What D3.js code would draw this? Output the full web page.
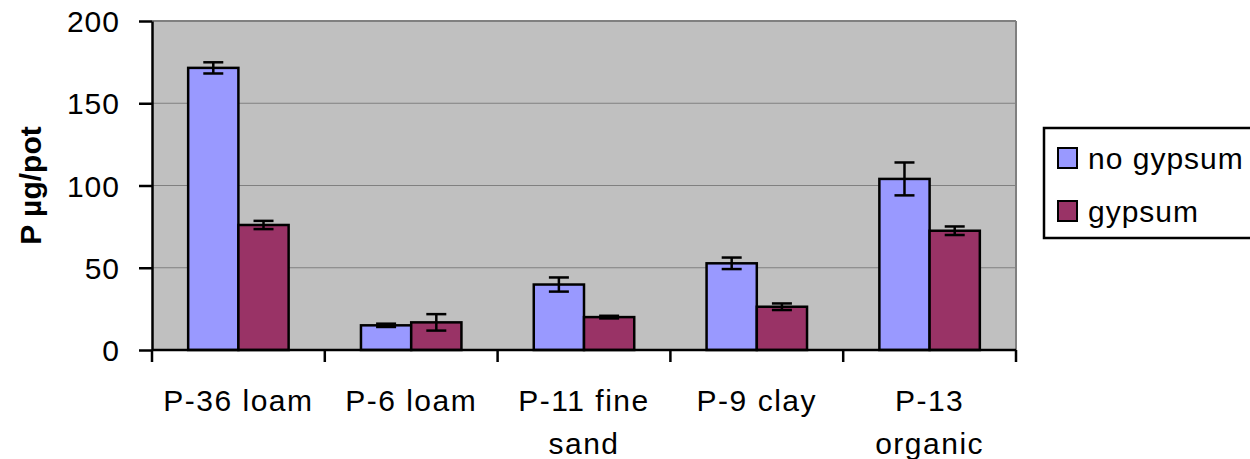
<!DOCTYPE html>
<html>
<head>
<meta charset="utf-8">
<script src="https://cdn.jsdelivr.net/npm/d3@7"></script>
<style>
  body { margin: 0; background: #fff; }
  svg text { font-family: "Liberation Sans", Arial, sans-serif; fill: #000; }
</style>
</head>
<body>
<div id="chart"></div>
<script>
// data
const categories = ["P-36 loam", "P-6 loam", "P-11 fine sand", "P-9 clay", "P-13 organic"];
const categoryLines = [["P-36 loam"], ["P-6 loam"], ["P-11 fine", "sand"], ["P-9 clay"], ["P-13", "organic"]];
const seriesNames = ["no gypsum", "gypsum"];
const noGypsum = [171.5, 15.0, 39.8, 52.7, 104.0];
const noGypsumErr = [3.4, 1.0, 4.3, 3.5, 10.0];
const gypsum = [76.0, 16.8, 20.0, 26.3, 72.5];
const gypsumErr = [2.5, 5.0, 0.8, 2.0, 2.6];
const yTicks = [0, 50, 100, 150, 200];
const colors = ["#9999FF", "#993366"];

const W = 1250, H = 459;
const margin = { top: 21, left: 152 };
const width = 864, height = 329;

const svg = d3.select("#chart").append("svg")
    .attr("width", W)
    .attr("height", H);

const g = svg.append("g")
    .attr("transform", `translate(${margin.left},${margin.top})`);

// scales
const x0 = d3.scaleBand().domain(categories).range([0, width]).paddingInner(0).paddingOuter(0);
const x1 = d3.scaleBand().domain(seriesNames).range([0, x0.bandwidth()]).paddingInner(0).paddingOuter(0.72);
const y = d3.scaleLinear().domain([0, 200]).range([height, 0]);

// plot background
g.append("rect")
    .attr("width", width)
    .attr("height", height)
    .attr("fill", "#C0C0C0");

// gridlines
g.selectAll(".grid")
    .data(yTicks.filter(d => d > 0))
    .enter().append("line")
    .attr("x1", 0).attr("x2", width)
    .attr("y1", d => y(d)).attr("y2", d => y(d))
    .attr("stroke", "#808080")
    .attr("stroke-width", d => d === 200 ? 2 : 1.2);

// right border
g.append("line")
    .attr("x1", width).attr("x2", width)
    .attr("y1", 0).attr("y2", height)
    .attr("stroke", "#808080").attr("stroke-width", 2);

// bars
const rows = categories.map((c, i) => ({
    cat: c,
    vals: [
        { s: seriesNames[0], v: noGypsum[i], e: noGypsumErr[i], k: 0 },
        { s: seriesNames[1], v: gypsum[i], e: gypsumErr[i], k: 1 }
    ]
}));

const groups = g.selectAll(".cat")
    .data(rows)
    .enter().append("g")
    .attr("transform", d => `translate(${x0(d.cat)},0)`);

groups.selectAll("rect")
    .data(d => d.vals)
    .enter().append("rect")
    .attr("x", d => x1(d.s))
    .attr("width", x1.bandwidth())
    .attr("y", d => y(d.v))
    .attr("height", d => height - y(d.v))
    .attr("fill", d => colors[d.k])
    .attr("stroke", "#000")
    .attr("stroke-width", 2.5);

// error bars
const capW = 10;
const eb = groups.selectAll(".err")
    .data(d => d.vals)
    .enter().append("g")
    .attr("stroke", "#000")
    .attr("stroke-width", 2.5);

eb.append("line")
    .attr("x1", d => x1(d.s) + x1.bandwidth() / 2)
    .attr("x2", d => x1(d.s) + x1.bandwidth() / 2)
    .attr("y1", d => y(d.v + d.e))
    .attr("y2", d => y(d.v - d.e));
eb.append("line")
    .attr("x1", d => x1(d.s) + x1.bandwidth() / 2 - capW)
    .attr("x2", d => x1(d.s) + x1.bandwidth() / 2 + capW)
    .attr("y1", d => y(d.v + d.e))
    .attr("y2", d => y(d.v + d.e));
eb.append("line")
    .attr("x1", d => x1(d.s) + x1.bandwidth() / 2 - capW)
    .attr("x2", d => x1(d.s) + x1.bandwidth() / 2 + capW)
    .attr("y1", d => y(d.v - d.e))
    .attr("y2", d => y(d.v - d.e));

// y axis
const yAxis = g.append("g")
    .call(d3.axisLeft(y).tickValues(yTicks).tickSize(13).tickPadding(19).tickSizeOuter(0));
yAxis.select(".domain").attr("stroke", "#000").attr("stroke-width", 2.5);
yAxis.selectAll(".tick line").attr("stroke", "#000").attr("stroke-width", 2.5);
yAxis.selectAll(".tick text")
    .attr("font-size", 30)
    .attr("letter-spacing", 1)
    .attr("dy", "0.35em");

// x axis line and category boundary ticks
g.append("line")
    .attr("x1", 0).attr("x2", width)
    .attr("y1", height).attr("y2", height)
    .attr("stroke", "#000").attr("stroke-width", 2.5);

const bounds = categories.map(c => x0(c)).concat([x0(categories[categories.length - 1]) + x0.bandwidth()]);
g.selectAll(".xtick")
    .data(bounds)
    .enter().append("line")
    .attr("x1", d => d).attr("x2", d => d)
    .attr("y1", height).attr("y2", height + 12)
    .attr("stroke", "#000").attr("stroke-width", 2.5);

// category labels
const xl = g.selectAll(".xlabel")
    .data(categories)
    .enter().append("text")
    .attr("text-anchor", "middle")
    .attr("font-size", 30)
    .attr("letter-spacing", 1.5)
    .attr("transform", d => `translate(${x0(d) + x0.bandwidth() / 2},${height + 61})`);
xl.selectAll("tspan")
    .data((d, i) => categoryLines[i])
    .enter().append("tspan")
    .attr("x", 0)
    .attr("y", (d, i) => i * 43)
    .text(d => d);

// y axis title
svg.append("text")
    .attr("transform", `translate(41,${margin.top + height / 2}) rotate(-90)`)
    .attr("text-anchor", "middle")
    .attr("font-size", 30)
    .attr("font-weight", "bold")
    .text("P µg/pot");

// legend
const legend = svg.append("g").attr("transform", "translate(1044,128)");
legend.append("rect")
    .attr("width", 240)
    .attr("height", 110)
    .attr("fill", "#fff")
    .attr("stroke", "#000")
    .attr("stroke-width", 2.5);
const li = legend.selectAll(".li")
    .data(seriesNames)
    .enter().append("g")
    .attr("transform", (d, i) => `translate(14,${20 + i * 53})`);
li.append("rect")
    .attr("width", 19)
    .attr("height", 20)
    .attr("fill", (d, i) => colors[i])
    .attr("stroke", "#000")
    .attr("stroke-width", 2);
li.append("text")
    .attr("x", 30)
    .attr("y", 21)
    .attr("font-size", 30)
    .attr("letter-spacing", 1)
    .text(d => d);
</script>
</body>
</html>
